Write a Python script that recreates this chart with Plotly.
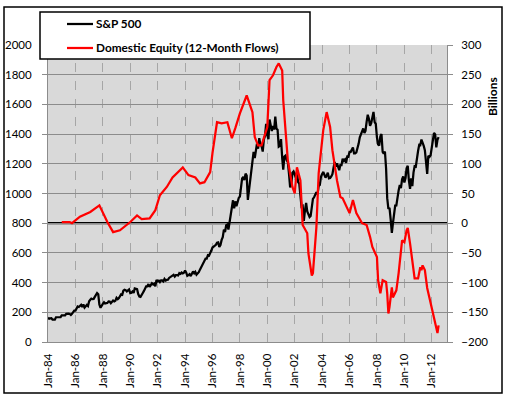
import plotly.graph_objects as go
import pandas as pd

# S&P 500 monthly level, Jan-1984 .. Jul-2012 (left axis)
sp500 = [
    163.4, 157.1, 159.2, 160.1, 150.6, 153.2, 150.7, 166.7, 166.1, 166.1, 163.6, 167.2,
    179.6, 181.2, 180.7, 179.8, 189.6, 191.9, 190.9, 188.6, 182.1, 189.8, 202.2, 211.3,
    211.8, 226.9, 238.9, 235.5, 247.4, 250.8, 236.1, 252.9, 231.3, 243.9, 249.2, 242.2,
    274.1, 284.2, 291.7, 288.4, 290.1, 304.0, 318.7, 329.8, 321.8, 251.8, 230.3, 247.1,
    257.1, 267.8, 258.9, 261.3, 262.2, 273.5, 272.0, 261.5, 271.9, 279.0, 273.7, 277.7,
    297.5, 288.9, 294.9, 309.6, 320.5, 318.0, 346.1, 351.5, 349.2, 340.4, 346.0, 353.4,
    329.1, 331.9, 339.9, 330.8, 361.2, 358.0, 356.2, 322.6, 306.1, 304.0, 322.2, 330.2,
    343.9, 367.1, 375.2, 375.3, 389.8, 371.2, 387.8, 395.4, 387.9, 392.5, 375.2, 417.1,
    408.8, 412.7, 403.7, 415.0, 415.4, 408.1, 424.2, 414.0, 417.8, 418.7, 431.4, 435.7,
    438.8, 443.4, 451.7, 440.2, 450.2, 450.5, 448.1, 463.6, 458.9, 467.8, 461.8, 466.5,
    481.6, 467.1, 445.8, 450.9, 456.5, 444.3, 458.3, 475.5, 462.7, 472.4, 453.7, 459.3,
    470.4, 487.4, 500.7, 514.7, 533.4, 544.8, 562.1, 561.9, 584.4, 581.5, 605.4, 615.9,
    636.0, 640.4, 645.5, 654.2, 669.1, 670.6, 640.0, 652.0, 687.3, 705.3, 757.0, 740.7,
    786.2, 790.8, 757.1, 801.3, 848.3, 885.1, 954.3, 899.5, 947.3, 914.6, 955.4, 970.4,
    980.3, 1049.3, 1101.8, 1111.8, 1090.8, 1133.8, 1120.7, 957.3, 1017.0, 1098.7, 1163.6, 1229.2,
    1279.6, 1238.3, 1286.4, 1335.2, 1301.8, 1372.7, 1328.7, 1320.4, 1282.7, 1362.9, 1388.9, 1469.3,
    1394.5, 1366.4, 1498.6, 1452.4, 1420.6, 1454.6, 1430.8, 1517.7, 1436.5, 1429.4, 1315.2, 1320.3,
    1366.0, 1239.9, 1160.3, 1249.5, 1255.8, 1224.4, 1211.2, 1133.6, 1040.9, 1059.8, 1139.5, 1148.1,
    1130.2, 1106.7, 1147.4, 1076.9, 1067.1, 989.8, 911.6, 916.1, 815.3, 885.8, 936.3, 879.8,
    855.7, 841.2, 848.2, 916.9, 963.6, 974.5, 990.3, 1008.0, 996.0, 1050.7, 1058.2, 1111.9,
    1131.1, 1144.9, 1126.2, 1107.3, 1120.7, 1140.8, 1101.7, 1104.2, 1114.6, 1130.2, 1173.8, 1211.9,
    1181.3, 1203.6, 1180.6, 1156.9, 1191.5, 1191.3, 1234.2, 1220.3, 1228.8, 1207.0, 1249.5, 1248.3,
    1280.1, 1280.7, 1294.8, 1310.6, 1270.1, 1270.2, 1276.7, 1303.8, 1335.9, 1377.9, 1400.6, 1418.3,
    1438.2, 1406.8, 1420.9, 1482.4, 1530.6, 1503.4, 1455.3, 1474.0, 1526.8, 1549.4, 1481.1, 1468.4,
    1378.6, 1330.6, 1322.7, 1385.6, 1400.4, 1280.0, 1267.4, 1282.8, 1166.4, 968.8, 896.2, 903.3,
    825.9, 735.1, 797.9, 872.8, 919.1, 919.3, 987.5, 1020.6, 1057.1, 1036.2, 1095.6, 1115.1,
    1073.9, 1104.5, 1169.4, 1186.7, 1089.4, 1030.7, 1101.6, 1049.3, 1141.2, 1183.3, 1180.6, 1257.6,
    1286.1, 1327.2, 1325.8, 1363.6, 1345.2, 1320.6, 1292.3, 1218.9, 1131.4, 1253.3, 1247.0, 1257.6,
    1312.4, 1365.7, 1408.5, 1397.9, 1310.3, 1362.2, 1379.3,
]
sp500_dates = pd.date_range("1984-01-01", periods=len(sp500), freq="MS")

# Domestic equity fund flows, trailing 12 months, $ billions (right axis)
flow_dates = [
    "1985-01", "1985-08", "1985-10", "1986-05", "1987-02", "1987-10", "1988-05", "1988-10",
    "1989-04", "1990-01", "1990-07", "1990-11", "1991-06", "1991-11", "1992-03", "1992-09",
    "1993-02", "1993-07", "1993-11", "1994-04", "1994-10", "1995-02", "1995-06", "1995-11",
    "1996-01", "1996-05", "1996-09", "1997-02", "1997-06", "1997-09", "1998-01", "1998-07",
    "1998-12", "1999-02", "1999-05", "1999-08", "2000-01", "2000-03", "2000-06", "2000-09",
    "2000-11", "2001-02", "2001-03", "2001-07", "2001-11", "2002-01", "2002-03", "2002-06",
    "2002-07", "2002-08", "2002-12", "2003-01", "2003-04", "2003-05", "2003-08", "2003-10",
    "2004-02", "2004-05", "2004-08", "2004-10", "2005-02", "2005-05", "2005-07", "2005-11",
    "2006-01", "2006-04", "2006-07", "2006-12", "2007-04", "2007-07", "2007-09", "2008-01",
    "2008-02", "2008-04", "2008-06", "2008-09", "2008-10", "2008-11", "2008-12", "2009-02",
    "2009-03", "2009-06", "2009-08", "2009-11", "2010-01", "2010-03", "2010-04", "2010-06",
    "2010-08", "2010-10", "2011-01", "2011-03", "2011-04", "2011-05", "2011-07", "2011-09",
    "2011-11", "2012-02", "2012-06", "2012-07",
]
flows = [
    2, 2, 0, 11, 19, 30, 2, -15,
    -12, 2, 13, 7, 8, 22, 47, 61,
    77, 86, 94, 81, 77, 67, 69, 86,
    118, 170, 168, 170, 143, 160, 185, 215,
    187, 145, 131, 131, 162, 241, 249, 263,
    269, 257, 207, 106, 61, 50, 94, 72,
    39, -3, -17, -51, -88, -84, -7, 84,
    157, 187, 162, 123, 72, 44, 42, 25,
    17, 39, 17, 0, -3, -23, -40, -57,
    -96, -118, -96, -99, -118, -152, -141, -108,
    -125, -113, -84, -29, -32, -12, -8, -34,
    -62, -93, -93, -74, -79, -71, -79, -109,
    -126, -152, -185, -172,
]

left_ticks = [0, 200, 400, 600, 800, 1000, 1200, 1400, 1600, 1800, 2000]
right_ticks = [-200, -150, -100, -50, 0, 50, 100, 150, 200, 250, 300]
series_names = ["S&P 500", "Domestic Equity (12-Month Flows)"]

W, H = 507, 398
L, R, T, B = 48, 447, 45, 342


def px(x):
    return (x - L) / (R - L)


def py(y):
    return (B - y) / (B - T)


FONT = "Lato, 'Open Sans', sans-serif"
TICK = 11.5
LEG = 11.8

fig = go.Figure()
fig.add_trace(go.Scatter(x=sp500_dates, y=sp500, mode="lines", name=series_names[0],
                         line=dict(color="black", width=2.25), yaxis="y"))
fig.add_trace(go.Scatter(x=pd.to_datetime(flow_dates), y=flows, mode="lines", name=series_names[1],
                         line=dict(color="#FF0000", width=2.25), yaxis="y2"))

grid_col = "#8C8C8C"
fig.update_layout(
    width=W, height=H,
    margin=dict(l=L, r=W - R, t=T, b=H - B, pad=0, autoexpand=False),
    paper_bgcolor="white",
    plot_bgcolor="#D9D9D9",
    showlegend=False,
    font=dict(family=FONT, size=12, color="black"),
    xaxis=dict(
        type="date",
        range=["1984-01-01", "2013-02-10"],
        tick0="1984-01-01", dtick="M24", tickformat="%b-%y",
        tickangle=-90, automargin=False,
        showgrid=True, gridcolor="#A6A6A6", griddash="dash", gridwidth=1,
        showline=True, linecolor=grid_col, linewidth=1,
        ticks="", ticklabelstandoff=6,
        tickfont=dict(size=TICK, family=FONT),
        zeroline=False,
    ),
    yaxis=dict(
        range=[0, 2000], tickvals=left_ticks, automargin=False,
        showgrid=True, gridcolor=grid_col, gridwidth=1,
        showline=True, linecolor=grid_col, linewidth=1,
        ticks="outside", ticklen=5, tickcolor=grid_col,
        ticklabelstandoff=8,
        zeroline=False,
        tickfont=dict(size=TICK, family=FONT),
    ),
    yaxis2=dict(
        range=[-200, 300], tickvals=right_ticks, automargin=False,
        overlaying="y", side="right",
        showgrid=False,
        showline=True, linecolor=grid_col, linewidth=1,
        ticks="outside", ticklen=5, tickcolor=grid_col,
        ticklabelstandoff=6,
        zeroline=False,
        tickfont=dict(size=TICK, family=FONT),
    ),
)

shapes = [
    # zero line of the flows axis
    dict(type="line", xref="paper", x0=0, x1=1, yref="y2", y0=0, y1=0,
         line=dict(color="black", width=2.25), layer="between"),
    # outer chart border
    dict(type="rect", xref="paper", yref="paper", x0=px(4), x1=px(502), y0=py(393), y1=py(7),
         line=dict(color="black", width=1.5), fillcolor="rgba(0,0,0,0)", layer="above"),
    # legend box
    dict(type="rect", xref="paper", yref="paper", x0=px(40), x1=px(310), y0=py(59), y1=py(12),
         line=dict(color="black", width=1.5), fillcolor="white", layer="above"),
    dict(type="line", xref="paper", yref="paper", x0=px(67), x1=px(93), y0=py(24), y1=py(24),
         line=dict(color="black", width=2.25), layer="above"),
    dict(type="line", xref="paper", yref="paper", x0=px(67), x1=px(93), y0=py(48), y1=py(48),
         line=dict(color="#FF0000", width=2.25), layer="above"),
]
fig.update_layout(shapes=shapes)

annotations = [
    dict(text="<b>" + series_names[0] + "</b>", xref="paper", yref="paper", x=px(94), y=py(24),
         xanchor="left", yanchor="middle", showarrow=False, font=dict(size=LEG, family=FONT)),
    dict(text="<b>" + series_names[1] + "</b>", xref="paper", yref="paper", x=px(94), y=py(48),
         xanchor="left", yanchor="middle", showarrow=False, font=dict(size=LEG, family=FONT)),
    dict(text="<b>Billions</b>", xref="paper", yref="paper", x=px(492), y=py(97),
         xanchor="center", yanchor="middle", textangle=-90, showarrow=False,
         font=dict(size=12, family=FONT)),
]
fig.update_layout(annotations=annotations)

fig.write_html(
    "out.html",
    config={"displayModeBar": False, "staticPlot": True},
    post_script="document.body.style.margin='0px';document.body.style.overflow='hidden';",
)
